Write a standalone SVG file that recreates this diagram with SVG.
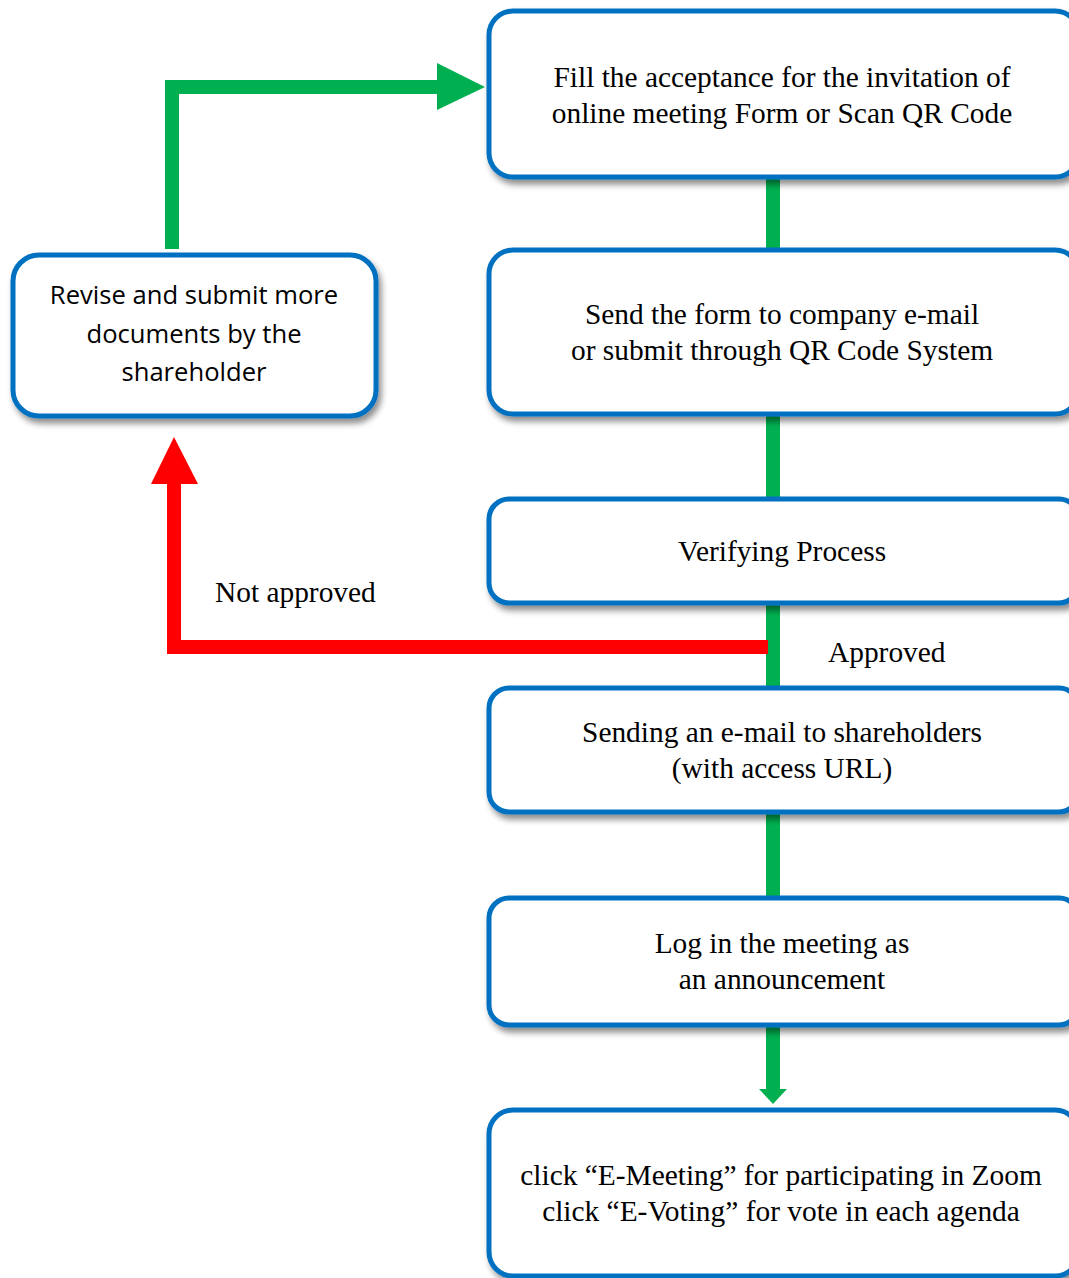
<svg xmlns="http://www.w3.org/2000/svg" width="1069" height="1278" viewBox="0 0 1069 1278">
<style>
.box{fill:#fff;stroke:#0070C0;stroke-width:5;filter:url(#sh)}
.t{font-family:"Liberation Serif","Times New Roman",serif;font-size:29.4px;fill:#000;text-anchor:middle}
.s{font-family:"Open Sans","Liberation Sans",sans-serif;font-size:25.6px;fill:#000;text-anchor:middle}
.g{stroke:#00B050;stroke-width:14;fill:none}
.r{stroke:#FF0000;stroke-width:14;fill:none}
</style>
<defs>
<filter id="sh" x="-10%" y="-10%" width="130%" height="140%">
<feDropShadow dx="3" dy="5" stdDeviation="3" flood-color="#000" flood-opacity="0.45"/>
</filter>
</defs>
<g id="connectors">
<line class="g" x1="773" y1="176" x2="773" y2="252"/>
<line class="g" x1="773" y1="413" x2="773" y2="501"/>
<line class="g" x1="773" y1="602" x2="773" y2="690"/>
<line class="g" x1="773" y1="811" x2="773" y2="900"/>
<line class="g" x1="773" y1="1024" x2="773" y2="1090"/>
<polygon points="759,1089 787,1089 773,1104" fill="#00B050"/>
<polyline class="g" points="172,249 172,87 440,87"/>
<polygon points="437,63 485,87 437,110" fill="#00B050"/>
<polyline class="r" points="768,647 174,647 174,482"/>
<polygon points="151,484 198,484 174,437" fill="#FF0000"/>
</g>
<g id="n1"><rect class="box" x="489" y="11" width="590" height="166" rx="24"/>
<text class="t" x="782" y="87">Fill the acceptance for the invitation of</text>
<text class="t" x="782" y="123">online meeting Form or Scan QR Code</text></g>
<g id="n2"><rect class="box" x="489" y="250" width="590" height="164" rx="24"/>
<text class="t" x="782" y="324">Send the form to company e-mail</text>
<text class="t" x="782" y="360">or submit through QR Code System</text></g>
<g id="n3"><rect class="box" x="489" y="499" width="590" height="104" rx="20"/>
<text class="t" x="782" y="561">Verifying Process</text></g>
<g id="n4"><rect class="box" x="489" y="688" width="590" height="124" rx="20"/>
<text class="t" x="782" y="742">Sending an e-mail to shareholders</text>
<text class="t" x="782" y="778">(with access URL)</text></g>
<g id="n5"><rect class="box" x="489" y="898" width="590" height="127" rx="20"/>
<text class="t" x="782" y="953">Log in the meeting as</text>
<text class="t" x="782" y="989">an announcement</text></g>
<g id="n6"><rect class="box" x="489" y="1110" width="590" height="166" rx="24"/>
<text class="t" x="781" y="1185">click “E-Meeting” for participating in Zoom</text>
<text class="t" x="781" y="1221">click “E-Voting” for vote in each agenda</text></g>
<g id="n7"><rect class="box" x="13" y="255" width="363" height="161" rx="26"/>
<text class="s" x="194" y="304">Revise and submit more</text>
<text class="s" x="194" y="343">documents by the</text>
<text class="s" x="194" y="381">shareholder</text></g>
<g id="labels">
<text class="t" x="215" y="602" style="text-anchor:start">Not approved</text>
<text class="t" x="828" y="662" style="text-anchor:start">Approved</text>
</g>
</svg>
